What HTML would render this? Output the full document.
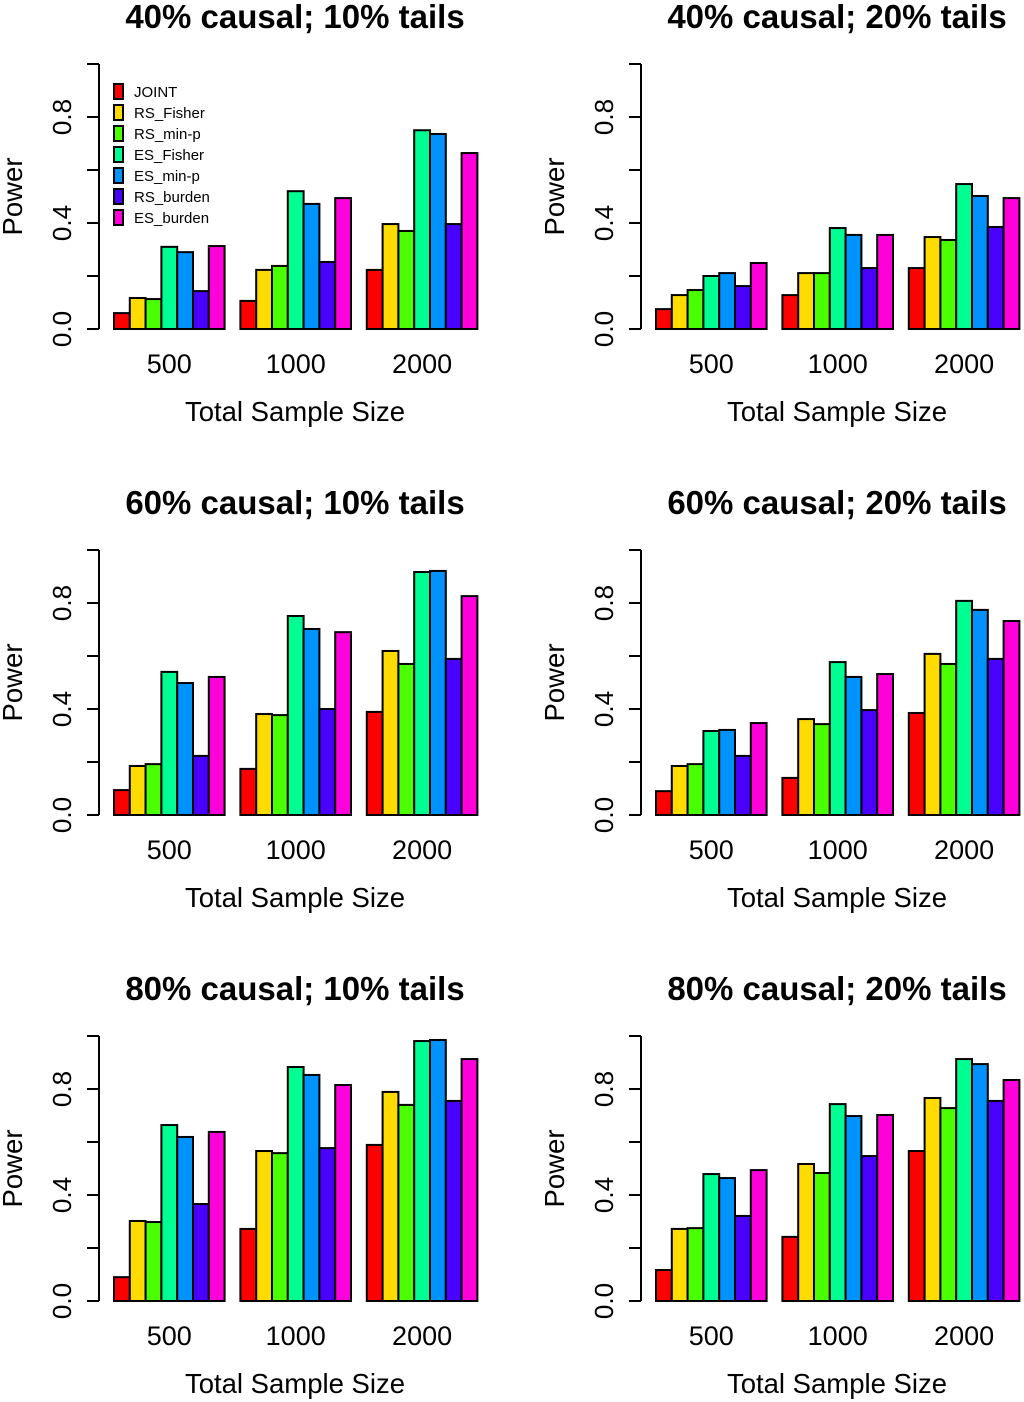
<!DOCTYPE html>
<html><head><meta charset="utf-8"><style>
html,body{margin:0;padding:0;background:#fff;}
svg{display:block;font-family:"Liberation Sans",Arial,sans-serif;}
</style></head><body>
<svg id="fig" width="1024" height="1402" viewBox="0 0 1024 1402" xmlns="http://www.w3.org/2000/svg"></svg>
<script>
const methods = ["JOINT","RS_Fisher","RS_min-p","ES_Fisher","ES_min-p","RS_burden","ES_burden"];
const colors = ["#FF0000","#FFDB00","#49FF00","#00FF92","#0092FF","#4900FF","#FF00DB"];
const sampleSizes = ["500","1000","2000"];
const yTicks = [0,0.2,0.4,0.6,0.8,1.0];
const yTickLabels = ["0.0","","0.4","","0.8",""];
const titles = ["40% causal; 10% tails","40% causal; 20% tails","60% causal; 10% tails","60% causal; 20% tails","80% causal; 10% tails","80% causal; 20% tails"];
const p40_10 = [[0.06,0.117,0.113,0.31,0.29,0.143,0.313],[0.106,0.223,0.238,0.52,0.472,0.253,0.494],[0.223,0.396,0.37,0.75,0.736,0.396,0.664]];
const p40_20 = [[0.075,0.128,0.147,0.2,0.211,0.162,0.249],[0.128,0.211,0.211,0.381,0.355,0.23,0.355],[0.23,0.347,0.336,0.547,0.502,0.385,0.494]];
const p60_10 = [[0.094,0.185,0.192,0.54,0.498,0.223,0.521],[0.174,0.381,0.377,0.751,0.702,0.4,0.69],[0.389,0.619,0.57,0.917,0.921,0.589,0.826]];
const p60_20 = [[0.09,0.185,0.192,0.317,0.321,0.223,0.347],[0.14,0.362,0.343,0.577,0.521,0.396,0.532],[0.385,0.608,0.57,0.808,0.774,0.589,0.732]];
const p80_10 = [[0.09,0.302,0.298,0.664,0.619,0.366,0.638],[0.272,0.566,0.558,0.883,0.853,0.577,0.815],[0.589,0.789,0.74,0.981,0.985,0.755,0.913]];
const p80_20 = [[0.117,0.272,0.275,0.479,0.464,0.321,0.494],[0.242,0.517,0.483,0.743,0.698,0.547,0.702],[0.566,0.766,0.728,0.913,0.894,0.755,0.834]];
const panelData = [p40_10,p40_20,p60_10,p60_20,p80_10,p80_20];

const NS="http://www.w3.org/2000/svg";
const svg=document.getElementById('fig');
function mk(tag,attrs,parent,text){const e=document.createElementNS(NS,tag);for(const k in attrs)e.setAttribute(k,attrs[k]);if(text!==undefined)e.textContent=text;(parent||svg).appendChild(e);return e;}

panelData.forEach((data,pi)=>{
  const col=pi%2,row=Math.floor(pi/2);
  const ax=col?641:99, x0=col?656:114, y0=329+row*486, yTop=64+row*486;
  const ppu=(y0-yTop)/1.0, unit=15.8;
  const yScale=v=>y0-v*ppu;
  const xScale=(g,m)=>x0+(g*8+m)*unit;
  const g=mk('g',{},svg);
  
  
  const cx=col?837:295;
  const t=mk('text',{x:cx,y:28+row*486,'text-anchor':'middle','font-size':'33','font-weight':'bold'},g,titles[pi]);
  
  
  const axl=mk('line',{x1:ax,y1:yScale(0),x2:ax,y2:yScale(1),stroke:'#000','stroke-width':2},g);
  
  
  yTicks.forEach((v,i)=>{
    mk('line',{x1:ax-12,y1:yScale(v),x2:ax,y2:yScale(v),stroke:'#000','stroke-width':2},g);
    if(yTickLabels[i]){
      const tl=mk('text',{x:0,y:0,transform:`translate(${ax-28},${yScale(v)}) rotate(-90)`,'text-anchor':'middle','font-size':'26'},g,yTickLabels[i]);
      
      
    }
  });
  const pw=mk('text',{x:0,y:0,transform:`translate(${ax-77},${yScale(0.5)}) rotate(-90)`,'text-anchor':'middle','font-size':'27.5'},g,'Power');
  
  
  data.forEach((grp,gi)=>{
    grp.forEach((v,mi)=>{
      const r=mk('rect',{x:xScale(gi,mi),y:yScale(v),width:unit,height:yScale(0)-yScale(v),fill:colors[mi],stroke:'#000','stroke-width':2},g);
      
      
    });
    const gl=mk('text',{x:xScale(gi,3.5),y:y0+44,'text-anchor':'middle','font-size':'27'},g,sampleSizes[gi]);
    
    
  });
  const xt=mk('text',{x:cx,y:y0+92,'text-anchor':'middle','font-size':'27.5'},g,'Total Sample Size');
  
  
  if(pi===0){
    const lg=mk('g',{},g);
    
    
    methods.forEach((m,i)=>{
      const y=84+i*21;
      const b=mk('rect',{x:114,y:y,width:9,height:15,fill:colors[i],stroke:'#000','stroke-width':2},lg);
      
      
      const lt=mk('text',{x:134,y:y+13,'font-size':'15'},lg,m);
      
      
    });
  }
});
</script>
</body></html>
